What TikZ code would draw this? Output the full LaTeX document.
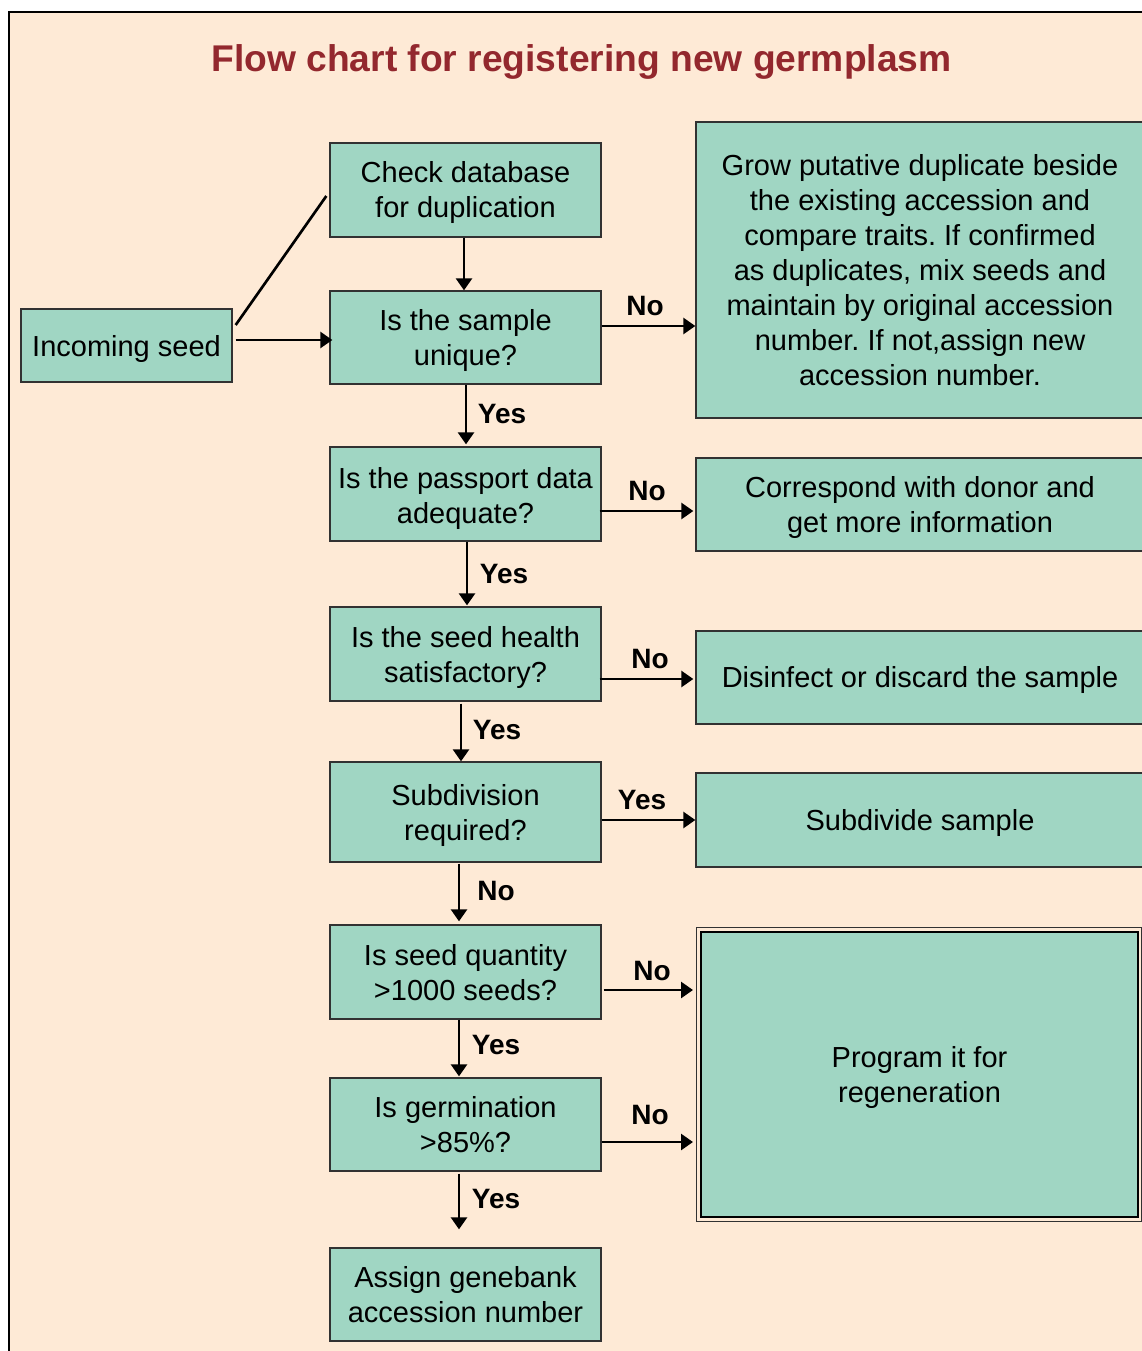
\documentclass[tikz,border=0pt]{standalone}
\usepackage{fontspec}
\setmainfont{Liberation Sans}
\usetikzlibrary{arrows.meta}
\frenchspacing
\newcommand\pxu{0.75pt}
\newcommand\tup[1]{\rule{0pt}{#1pt}}
\definecolor{cream}{RGB}{254,234,214}
\definecolor{boxfill}{RGB}{160,214,195}
\definecolor{titlered}{RGB}{147,40,46}
\definecolor{boxline}{RGB}{50,50,50}
\tikzset{
  box/.style={draw=boxline, line width=1pt, fill=boxfill, inner sep=0pt, align=center,
    font=\fontsize{21.75}{26.25}\selectfont},
  lbox/.style={box, minimum width=271*\pxu},
  rbox/.style={box, minimum width=448*\pxu},
  arr/.style={line width=2pt, -{Triangle[length=9pt, width=12pt]}},
  plain/.style={line width=2pt},
  lbl/.style={font=\fontsize{21}{25}\bfseries\selectfont, inner sep=0pt}
}
\begin{document}
\begin{tikzpicture}[x=0.75pt, y=-0.75pt]
\useasboundingbox (0,0) rectangle (1141,1351);
\fill[white] (0,0) rectangle (1141,1351);
\draw[line width=2pt, fill=cream] (9,12) rectangle (1160,1370);

\node[font=\fontsize{27.9}{33}\bfseries\selectfont, text=titlered] (title) at (581.5,62) {Flow chart for registering new germplasm};

% left column
\node[box, minimum width=211*\pxu, minimum height=73*\pxu] (inc) at (126.5,345.5) {\tup{20.5}Incoming seed};
\node[lbox, minimum height=94*\pxu] (check) at (465.5,190) {\tup{19}Check database\\for duplication};
\node[lbox, minimum height=93*\pxu] (unique) at (465.5,337.5) {\tup{20.5}Is the sample\\unique?};
\node[lbox, minimum height=94*\pxu] (pass) at (465.5,494) {\tup{22}Is the passport data\\adequate?};
\node[lbox, minimum height=94*\pxu] (health) at (465.5,654) {\tup{20.5}Is the seed health\\satisfactory?};
\node[lbox, minimum height=100*\pxu] (subdiv) at (465.5,812) {\tup{20.5}Subdivision\\required?};
\node[lbox, minimum height=94*\pxu] (qty) at (465.5,972) {\tup{16}Is seed quantity\\>1000 seeds?};
\node[lbox, minimum height=93*\pxu] (germ) at (465.5,1124.5) {\tup{16}Is germination\\>85\%?};
\node[lbox, minimum height=93*\pxu] (assign) at (465.5,1294.5) {\tup{16}Assign genebank\\accession number};

% right column
\node[rbox, minimum height=296*\pxu] (grow) at (920,270) {Grow putative duplicate beside\\the existing accession and\\compare traits. If confirmed\\as duplicates, mix seeds and\\maintain by original accession\\number. If not,assign new\\accession number.};
\node[rbox, minimum height=93*\pxu] (corr) at (920,504.5) {\tup{20.5}Correspond with donor and\\get more information};
\node[rbox, minimum height=93*\pxu] (disinf) at (920,677.5) {\tup{19}Disinfect or discard the sample};
\node[rbox, minimum height=94*\pxu] (subdivide) at (920,820) {\tup{20.5}Subdivide sample};
\node[box, minimum width=437*\pxu, minimum height=285*\pxu, draw=black, line width=1.5pt] (prog) at (919.5,1074.5) {\tup{20.5}Program it for\\regeneration};
\draw[boxline, line width=0.8pt] ([shift={(-3.5,-3.5)}]prog.north west) rectangle ([shift={(3,3.5)}]prog.south east);

% connectors
\draw[plain] ([shift={(3,-20.5)}]inc.east) -- ([shift={(-3,6)}]check.west);
\draw[arr] ([shift={(3,-5.5)}]inc.east) -- ([shift={(3,-5.5)}]inc.east -| unique.west);
\draw[arr] ([shift={(-1.5,0)}]check.south) -- ([shift={(-1.5,0)}]unique.north);

\draw[arr] ([shift={(0,-11.5)}]unique.east) -- ([shift={(0,-11.5)}]unique.east -| grow.west);
\draw[arr] ([shift={(-2,17)}]pass.east) -- ([shift={(-2,17)}]pass.east -| corr.west);
\draw[arr] ([shift={(-2,25)}]health.east) -- ([shift={(-2,25)}]health.east -| disinf.west);
\draw[arr] ([shift={(0,8)}]subdiv.east) -- ([shift={(0,8)}]subdiv.east -| subdivide.west);
\draw[arr, shorten >=7*\pxu] ([shift={(2,18)}]qty.east) -- ([shift={(0,18)}]qty.east -| prog.west);
\draw[arr, shorten >=7*\pxu] ([shift={(0,17.5)}]germ.east) -- ([shift={(0,17.5)}]germ.east -| prog.west);

\draw[arr, shorten >=2*\pxu] ([shift={(0.5,0)}]unique.south) -- ([shift={(0.5,0)}]pass.north);
\draw[arr, shorten >=1*\pxu] ([shift={(1.5,0)}]pass.south) -- ([shift={(1.5,0)}]health.north);
\draw[arr, shorten <=2*\pxu] ([shift={(-4.5,0)}]health.south) -- ([shift={(-4.5,0)}]subdiv.north);
\draw[arr, shorten <=1*\pxu, shorten >=3*\pxu] ([shift={(-6.5,0)}]subdiv.south) -- ([shift={(-6.5,0)}]qty.north);
\draw[arr, shorten >=1*\pxu] ([shift={(-6.5,0)}]qty.south) -- ([shift={(-6.5,0)}]germ.north);
\draw[arr, shorten <=2*\pxu, shorten >=18*\pxu] ([shift={(-6.5,0)}]germ.south) -- ([shift={(-6.5,0)}]assign.north);

% labels
\node[lbl] (l1) at (645,306) {No};
\node[lbl] (l2) at (647,491) {No};
\node[lbl] (l3) at (650,659) {No};
\node[lbl] (l4) at (642,800) {Yes};
\node[lbl] (l5) at (652,971) {No};
\node[lbl] (l6) at (650,1115) {No};
\node[lbl] (l7) at (502,414) {Yes};
\node[lbl] (l8) at (504,574) {Yes};
\node[lbl] (l9) at (497,730) {Yes};
\node[lbl] (l10) at (496,891) {No};
\node[lbl] (l11) at (496,1045) {Yes};
\node[lbl] (l12) at (496,1199) {Yes};
\end{tikzpicture}
\end{document}
